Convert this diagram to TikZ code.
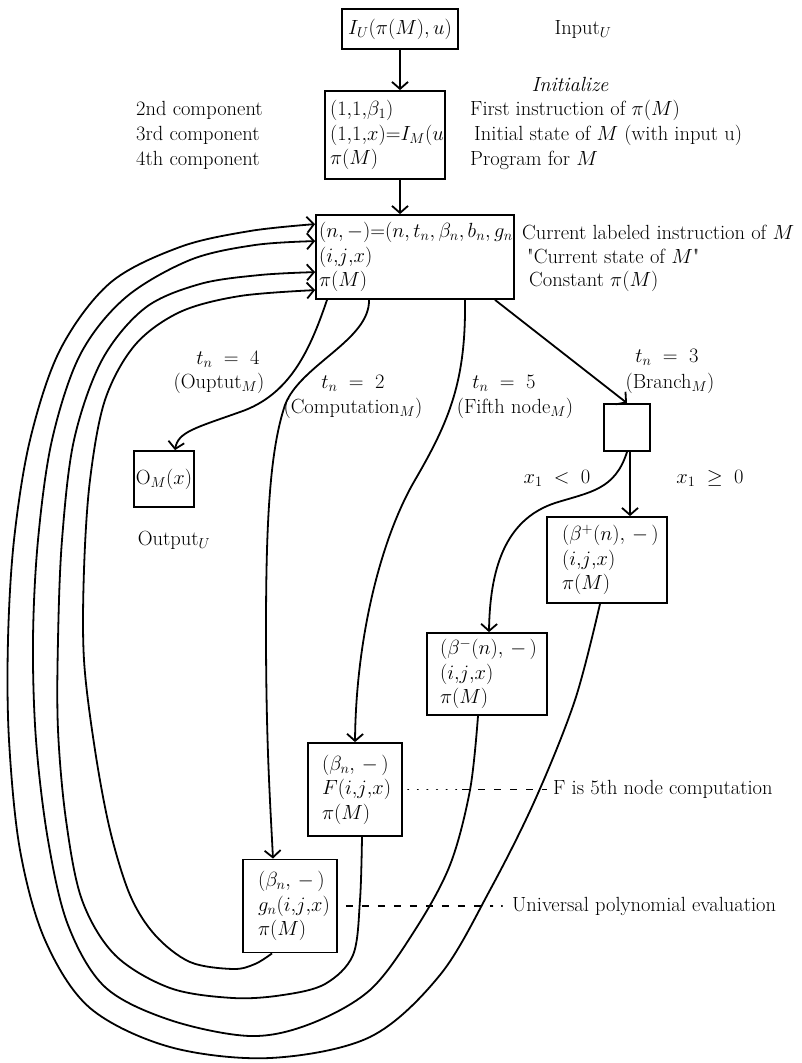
\RequirePackage{fix-cm}
\documentclass[tikz,border=0pt]{standalone}
\usepackage{amsmath}
\usetikzlibrary{arrows.meta,calc}
\begin{document}
\begin{tikzpicture}[x=1pt,y=-1pt,
  every node/.style={font=\fontsize{20.5}{24.5}\selectfont, inner sep=0pt},
  box/.style={draw, line width=1.8pt, inner ysep=3pt, align=left},
  cbox/.style={draw, line width=1.8pt, inner sep=2pt, align=center},
  conn/.style={line width=1.8pt, -{Straight Barb[length=7pt,width=16pt,line width=1.8pt]}},
  loopc/.style={conn, smooth, tension=0.55},
  dotl/.style={line width=1.5pt, dash pattern=on 0.6pt off 9pt, line cap=round},
  dashl/.style={line width=1.5pt, dash pattern=on 7pt off 9pt}
]
\useasboundingbox (0,0) rectangle (802,1063);

% boxes
\node[cbox, minimum width=116pt, minimum height=40pt] (inp) at (400,29) {$I_U(\pi(M),u)$};
\node[box, inner xsep=5pt, text width=110pt, minimum height=88pt] (init) at (385,135)
  {$(1{,}1{,}\beta_1)$\\ $(1{,}1{,}x){=}I_M(u$\\ $\pi(M)$};
\node[box, inner xsep=3pt, text width=192pt, minimum height=84pt] (main) at (415,257)
  {$(n,-){=}(n,t_n,\beta_n,b_n,g_n$\\ $(i{,}j{,}x)$\\ $\pi(M)$};
\node[cbox, minimum width=56pt, minimum height=56pt] (outb) at (164,479) {$\mathrm{O}_M(x)$};
\node[draw, line width=1.8pt, minimum width=46pt, minimum height=47pt] (br) at (627,427.5) {};
\node[box, inner xsep=15pt, text width=90pt, minimum height=86pt] (bp) at (607,560)
  {$(\beta^+(n),\,-\,)$\\ $(i{,}j{,}x)$\\ $\pi(M)$};
\node[box, inner xsep=13pt, text width=94pt, minimum height=82pt] (bm) at (487,674)
  {$(\beta^-(n),\,-\,)$\\ $(i{,}j{,}x)$\\ $\pi(M)$};
\node[box, inner xsep=14pt, text width=66pt, minimum height=93pt] (fb) at (355,789.5)
  {$(\beta_n,\,-\,)$\\ $F(i{,}j{,}x)$\\ $\pi(M)$};
\node[box, inner xsep=15pt, text width=64pt, minimum height=93pt] (gb) at (290,906)
  {$(\beta_n,\,-\,)$\\ $g_n(i{,}j{,}x)$\\ $\pi(M)$};

% labels
\node (inl) at (583,29) {Input$_U$};
\node (initz) at (570,84) {\itshape Initialize};
\node[anchor=west] (c2) at (136,110) {2nd component};
\node[anchor=west] (c3) at (136,135) {3rd component};
\node[anchor=west] (c4) at (136,160) {4th component};
\node[anchor=west] (r2) at (470,110) {First instruction of $\pi(M)$};
\node[anchor=west] (r3) at (474,135) {Initial state of $M$ (with input u)};
\node[anchor=west] (r4) at (470,160) {Program for $M$};
\node[anchor=west] (m1) at (522,232) {Current labeled instruction of $M$};
\node[anchor=west] (m2) at (527,256) {\textquotedbl Current state of $M$\textquotedbl};
\node[anchor=west] (m3) at (529,281) {Constant $\pi(M)$};

\node (t4) at (228,359) {$t_n\;=\;4$};
\node (t4b) at (219,383) {(Ouptut$_M$)};
\node (t2) at (353,383) {$t_n\;=\;2$};
\node (t2b) at (353,408) {(Computation$_M$)};
\node (t5) at (504,383) {$t_n\;=\;5$};
\node (t5b) at (515,408) {(Fifth node$_M$)};
\node (t3) at (667,357) {$t_n\;=\;3$};
\node (t3b) at (670,383) {(Branch$_M$)};
\node (xneg) at (557,478) {$x_1\;<\;0$};
\node (xpos) at (710,478) {$x_1\;\geq\;0$};
\node (outl) at (174,540) {Output$_U$};

\node[anchor=west] (flab) at (553,789.5) {F is 5th node computation};
\node[anchor=west] (glab) at (512,906) {Universal polynomial evaluation};

% straight arrows
\draw[conn] (inp.south) -- (inp.south |- init.north);
\draw[conn] (inp.south |- init.south) -- (inp.south |- main.north);
\draw[conn] ([xshift=80pt]main.south) -- (br.north);
\draw[conn] ([xshift=3pt]br.south) -- ([xshift=23pt]bp.north);

% branch arrows from main
\draw[conn] ([xshift=-88pt]main.south) .. controls (310,350) and (290,395) .. (240,412)
  .. controls (195,428) and (178,432) .. ([xshift=11pt]outb.north);
\draw[conn] ([xshift=-46pt]main.south) .. controls (370,340) and (300,365) .. (285,405)
  .. controls (270,450) and (266,520) .. (266,630)
  .. controls (266,740) and (270,800) .. ([xshift=-17pt]gb.north);
\draw[conn] ([xshift=50pt]main.south) .. controls (466,380) and (450,420) .. (415,480)
  .. controls (380,540) and (356,640) .. (fb.north);
\draw[conn] (br.south) .. controls (615,490) and (590,492) .. (555,503)
  .. controls (510,518) and (490,560) .. ([xshift=2pt]bm.north);

% return loops
\coordinate (e1) at ([yshift=-10pt]main.north west);
\coordinate (e2) at ([yshift=-27pt]main.north west);
\coordinate (e3) at ([yshift=-58pt]main.north west);
\coordinate (e4) at ([yshift=-76pt]main.north west);
\draw[loopc] plot coordinates {([xshift=-7pt]bp.south) (575,700) (535,800) (490,890) (440,975) (370,1037) (270,1058) (170,1047) (90,1008) (45,940) (20,850) (9,740) (8,640) (14,540) (30,440) (60,350) (110,283) (180,247) (250,231) (e1)};
\draw[loopc] plot coordinates {([xshift=-9pt]bm.south) (470,790) (450,865) (415,930) (370,990) (310,1024) (250,1036) (170,1020) (105,987) (68,925) (48,840) (36,740) (33,640) (38,540) (52,440) (80,355) (125,298) (190,260) (255,245) (e2)};
\draw[loopc] plot coordinates {([xshift=7pt]fb.south) (360,900) (353,955) (325,984) (283,995) (233,998) (170,988) (115,955) (82,900) (66,820) (58,730) (58,640) (62,540) (74,440) (102,360) (145,308) (200,284) (260,275) (e3)};
\draw[loopc] plot coordinates {([xshift=-18pt]gb.south) (255,964) (233,969) (190,962) (155,935) (130,895) (110,830) (95,750) (84,660) (84,570) (90,480) (105,400) (135,345) (180,312) (240,296) (e4)};

% leader lines
\coordinate (fm) at (462,789.5);
\draw[dotl] ([xshift=5pt]fb.east) -- (fm);
\draw[dashl] (fm) -- ([xshift=-6pt]flab.west);
\coordinate (gm) at (492,906);
\draw[dashl] ([xshift=8pt]gb.east) -- (gm);
\draw[dotl] (gm) -- ([xshift=-4pt]glab.west);
\end{tikzpicture}
\end{document}
